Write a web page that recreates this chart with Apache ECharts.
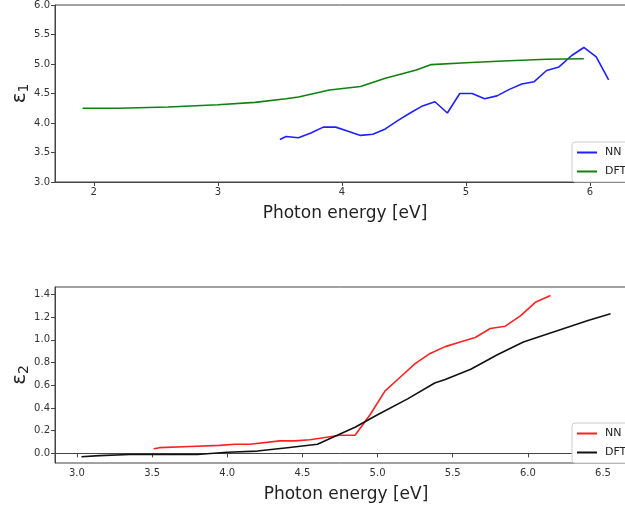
<!DOCTYPE html>
<html>
<head>
<meta charset="utf-8">
<script src="https://cdn.jsdelivr.net/npm/echarts@6/dist/echarts.min.js"></script>
<style>
  html, body { margin: 0; padding: 0; background: #fff; }
  #chart { width: 625px; height: 510px; }
</style>
</head>
<body>
<div id="chart"></div>
<script>
// eps1 panel
var e1NN = [[3.50,3.72],[3.55,3.77],[3.65,3.75],[3.75,3.83],[3.85,3.93],[3.95,3.93],[4.05,3.86],[4.15,3.79],[4.25,3.81],[4.35,3.90],[4.45,4.04],[4.55,4.17],[4.65,4.29],[4.75,4.36],[4.85,4.17],[4.95,4.50],[5.05,4.50],[5.15,4.41],[5.25,4.46],[5.35,4.57],[5.45,4.66],[5.55,4.70],[5.65,4.89],[5.75,4.95],[5.85,5.14],[5.95,5.28],[6.05,5.12],[6.15,4.73]];
var e1DFT = [[1.91,4.25],[2.2,4.25],[2.6,4.27],[3.0,4.31],[3.3,4.35],[3.55,4.41],[3.65,4.44],[3.9,4.56],[4.15,4.62],[4.35,4.76],[4.6,4.90],[4.72,4.99],[5.0,5.02],[5.3,5.05],[5.65,5.08],[5.95,5.09]];
// eps2 panel
var e2NN = [[3.51,0.04],[3.55,0.05],[3.75,0.06],[3.95,0.07],[4.05,0.08],[4.15,0.08],[4.35,0.11],[4.45,0.11],[4.55,0.12],[4.65,0.14],[4.75,0.16],[4.85,0.16],[4.95,0.34],[5.05,0.55],[5.15,0.67],[5.25,0.79],[5.35,0.88],[5.45,0.94],[5.55,0.98],[5.65,1.02],[5.75,1.10],[5.85,1.12],[5.95,1.21],[6.05,1.33],[6.15,1.39]];
var e2DFT = [[3.03,-0.03],[3.15,-0.02],[3.35,-0.01],[3.55,-0.01],[3.8,-0.01],[4.0,0.01],[4.2,0.02],[4.4,0.05],[4.6,0.08],[4.75,0.17],[4.85,0.23],[5.0,0.34],[5.2,0.48],[5.38,0.62],[5.45,0.65],[5.62,0.74],[5.8,0.87],[5.97,0.98],[6.15,1.06],[6.4,1.17],[6.55,1.23]];

var x1Ticks = [2, 3, 4, 5, 6];
var y1Ticks = [3.0, 3.5, 4.0, 4.5, 5.0, 5.5, 6.0];
var x2Ticks = [3.0, 3.5, 4.0, 4.5, 5.0, 5.5, 6.0, 6.5];
var y2Ticks = [0.0, 0.2, 0.4, 0.6, 0.8, 1.0, 1.2, 1.4];

var font = 'DejaVu Sans';
var axisCol = '#444';
var labelCol = '#333';

function xAxisCfg(idx, min, max, ticks, dec) {
  return {
    type: 'value', gridIndex: idx, min: min, max: max,
    name: 'Photon energy [eV]', nameLocation: 'middle', nameGap: 23,
    nameTextStyle: { fontFamily: font, fontSize: 17, color: '#222' },
    axisLine: { show: true, lineStyle: { color: axisCol } },
    axisTick: { show: true, length: 4, customValues: ticks, lineStyle: { color: axisCol } },
    axisLabel: { customValues: ticks, fontFamily: font, fontSize: 10, color: labelCol, margin: 5,
      formatter: function (v) { return v.toFixed(dec); } },
    splitLine: { show: false }
  };
}
function yAxisCfg(idx, min, max, ticks, sub) {
  return {
    type: 'value', gridIndex: idx, min: min, max: max,
    name: '{a|ε}{b|' + sub + '}', nameLocation: 'middle', nameGap: 24, nameRotate: 90,
    nameMoveOverlap: false,
    nameTextStyle: { rich: {
      a: { fontFamily: font, fontSize: 20, color: '#222' },
      b: { fontFamily: font, fontSize: 14, color: '#222', padding: [8, 0, 0, 0] }
    } },
    axisLine: { show: true, lineStyle: { color: axisCol } },
    axisTick: { show: true, length: 4, customValues: ticks, lineStyle: { color: axisCol } },
    axisLabel: { customValues: ticks, fontFamily: font, fontSize: 10, color: labelCol, margin: 5,
      formatter: function (v) { return v.toFixed(1); } },
    splitLine: { show: false }
  };
}
function line(name, data, color, idx) {
  return {
    name: name, type: 'line', data: data, xAxisIndex: idx, yAxisIndex: idx,
    showSymbol: false, symbol: 'none', lineStyle: { color: color, width: 1.6 },
    itemStyle: { color: color }, animation: false
  };
}
var legendBase = {
  orient: 'vertical', left: 572, itemWidth: 20, itemHeight: 2, itemGap: 8, icon: 'rect',
  backgroundColor: '#fff', borderColor: '#ccc', borderWidth: 1, borderRadius: 3,
  padding: [5, 20, 5, 5],
  textStyle: { fontFamily: font, fontSize: 11, color: '#222', padding: [0, 0, 0, 3] }
};

var chart = echarts.init(document.getElementById('chart'));
chart.setOption({
  animation: false,
  backgroundColor: '#fff',
  grid: [
    { left: 55, top: 5, width: 580, height: 177, show: true, borderColor: axisCol, borderWidth: 1, outerBoundsMode: 'none' },
    { left: 55, top: 287, width: 582, height: 176, show: true, borderColor: axisCol, borderWidth: 1, outerBoundsMode: 'none' }
  ],
  xAxis: [
    xAxisCfg(0, 1.6875, 6.3625, x1Ticks, 0),
    xAxisCfg(1, 2.854, 6.726, x2Ticks, 1)
  ],
  yAxis: [
    yAxisCfg(0, 3, 6, y1Ticks, '1'),
    yAxisCfg(1, -0.085, 1.465, y2Ticks, '2')
  ],
  legend: [
    Object.assign({}, legendBase, { top: 142, data: ['NN', 'DFT'] }),
    Object.assign({}, legendBase, { top: 423, data: ['NN ', 'DFT '] })
  ],
  series: [
    line('NN', e1NN, '#1f1fff', 0),
    line('DFT', e1DFT, '#108010', 0),
    line('NN ', e2NN, '#ff2020', 1),
    line('DFT ', e2DFT, '#111111', 1)
  ]
});
</script>
</body>
</html>
